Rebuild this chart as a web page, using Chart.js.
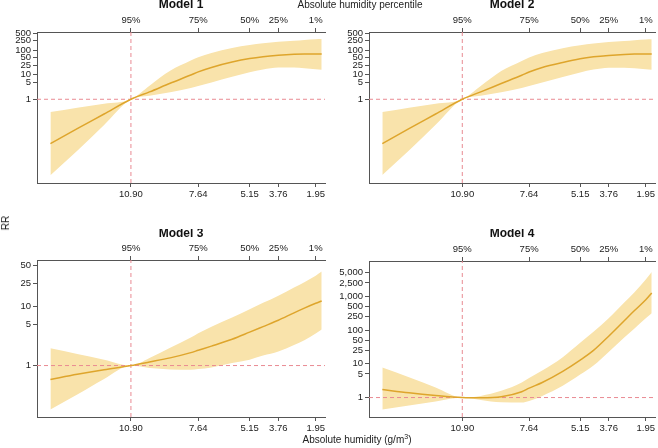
<!DOCTYPE html>
<html><head><meta charset="utf-8">
<script src="https://cdn.jsdelivr.net/npm/chart.js@4.4.1/dist/chart.umd.min.js"></script>
<style>
html,body{margin:0;padding:0;background:#fff;}
body{width:658px;height:448px;position:relative;overflow:hidden;font-family:"Liberation Sans",Arial,Helvetica,sans-serif;}
canvas{position:absolute;}
.lbl{position:absolute;font-size:10px;color:#222;white-space:nowrap;line-height:1;}
</style></head><body>
<canvas id="c1" width="329" height="200" style="left:0px;top:0px"></canvas>
<canvas id="c2" width="329" height="200" style="left:329px;top:0px"></canvas>
<canvas id="c3" width="329" height="205" style="left:0px;top:229px"></canvas>
<canvas id="c4" width="329" height="205" style="left:329px;top:229px"></canvas>
<div class="lbl" style="left:360px;top:5px;transform:translate(-50%,-50%)">Absolute humidity percentile</div>
<div class="lbl" style="left:357px;top:440px;transform:translate(-50%,-50%)">Absolute humidity (g/m<sup style="font-size:7px;vertical-align:4px;line-height:0">3</sup>)</div>
<div class="lbl" style="left:6px;top:223px;transform:translate(-50%,-50%) rotate(-90deg)">RR</div>
<script>
// ---- data ----
const humidity = [14.8, 13.5, 12.2, 10.9, 10, 9, 8, 7.64, 7, 6, 5.15, 4.5, 3.76, 3, 2.5, 1.95, 1.66];
const humidityTicks = [10.90, 7.64, 5.15, 3.76, 1.95];
const percentileLabels = ['95%', '75%', '50%', '25%', '1%'];
const refHumidity = 10.90;
const refRR = 1;

const m1Rr    = [0.0155, 0.063, 0.25, 1, 2.0, 4.5, 9.8, 13.2, 20, 33, 46, 55, 63, 69, 71, 71, 71];
const m1Upper = [0.30, 0.45, 0.66, 1, 3.6, 14.5, 38, 52, 78, 124, 164, 194, 224, 245, 263, 282, 288];
const m1Lower = [0.00079, 0.0079, 0.089, 1, 1.4, 1.95, 2.9, 3.5, 4.9, 8.3, 12.6, 16.6, 20, 20, 18.6, 17, 16.2];

const m2Rr    = [0.0155, 0.063, 0.25, 1, 2.0, 4.4, 9.6, 13, 20, 32, 45, 54, 62, 68, 70, 70, 70];
const m2Upper = [0.30, 0.45, 0.66, 1, 3.5, 14.2, 37, 51, 77, 122, 161, 191, 220, 242, 260, 278, 285];
const m2Lower = [0.00080, 0.0080, 0.09, 1, 1.4, 1.95, 2.9, 3.5, 4.8, 8.1, 12.4, 16.3, 19.6, 19.6, 18.3, 16.8, 16];

const m3Rr    = [0.58, 0.71, 0.85, 1, 1.15, 1.35, 1.66, 1.82, 2.14, 2.8, 3.7, 4.6, 5.9, 7.9, 9.5, 11.5, 12.6];
const m3Upper = [1.97, 1.58, 1.26, 1, 1.35, 2.0, 3.0, 3.55, 4.6, 6.6, 9.1, 11.7, 15.5, 21.4, 26.3, 33.9, 39.8];
const m3Lower = [0.178, 0.32, 0.59, 1, 0.91, 0.86, 0.85, 0.87, 0.93, 1.1, 1.26, 1.48, 1.74, 2.24, 2.7, 3.5, 4.1];

const m4Rr    = [1.73, 1.38, 1.15, 1, 0.98, 1.05, 1.48, 1.9, 2.8, 6.0, 12.9, 25, 66, 190, 380, 794, 1260];
const m4Upper = [7.8, 4.0, 2.0, 1, 1.12, 1.58, 2.8, 3.8, 6.3, 15.8, 42, 89, 224, 660, 1320, 3160, 5250];
const m4Lower = [0.44, 0.58, 0.76, 1, 0.85, 0.72, 0.71, 0.79, 1.12, 2.24, 4.8, 8.9, 22.4, 60, 112, 224, 316];

const m12YTicks = [1, 5, 10, 25, 50, 100, 250, 500];
const m3YTicks  = [1, 5, 10, 25, 50];
const m4YTicks  = [1, 5, 10, 25, 50, 100, 250, 500, 1000, 2500, 5000];

// ---- layout / style ----
const X_MIN = 1.5, X_MAX = 15.45;
const BAND = '#f9e3ab';
const LINE = '#dea52c';
const DASH = '#e98a92';
const AXIS = '#555';
const TXT = '#222';
const FONT = '"Liberation Sans", Arial, Helvetica, sans-serif';

const panels = [
  {id:'c1', title:'Model 1', rr:m1Rr, hi:m1Upper, lo:m1Lower, yTicks:m12YTicks, yMin:0.00038, yMax:560,
   canvas:{h:200}, area:{l:37, r:325, t:32, b:183}},
  {id:'c2', title:'Model 2', rr:m2Rr, hi:m2Upper, lo:m2Lower, yTicks:m12YTicks, yMin:0.00038, yMax:560,
   canvas:{h:200}, area:{l:40, r:326, t:32, b:183}},
  {id:'c3', title:'Model 3', rr:m3Rr, hi:m3Upper, lo:m3Lower, yTicks:m3YTicks, yMin:0.133, yMax:62.7,
   canvas:{h:205}, area:{l:37, r:325, t:31, b:188}},
  {id:'c4', title:'Model 4', rr:m4Rr, hi:m4Upper, lo:m4Lower, yTicks:m4YTicks, yMin:0.265, yMax:11200,
   canvas:{h:205}, area:{l:40, r:326, t:32, b:188}}
];

const TITLE_H = 9;
const pts = arr => humidity.map((h, i) => ({x: h, y: arr[i]}));
const tickFont = {family: FONT, size: 9.5};

panels.forEach(p => {
  const W = 329;
  const axisCommon = {
    grid: {drawOnChartArea: false, drawTicks: true, tickLength: 4, color: AXIS, lineWidth: 1},
    border: {display: true, color: AXIS, width: 1}
  };
  new Chart(document.getElementById(p.id), {
    type: 'line',
    data: {datasets: [
      {label: 'upper', data: pts(p.hi), borderWidth: 0, borderColor: 'rgba(0,0,0,0)', pointRadius: 0,
       fill: '+1', backgroundColor: BAND, cubicInterpolationMode: 'monotone', order: 2},
      {label: 'lower', data: pts(p.lo), borderWidth: 0, borderColor: 'rgba(0,0,0,0)', pointRadius: 0,
       fill: false, cubicInterpolationMode: 'monotone', order: 2},
      {label: 'RR', data: pts(p.rr), borderColor: LINE, borderWidth: 1.5, pointRadius: 0,
       fill: false, cubicInterpolationMode: 'monotone', order: 0},
      {label: 'refRR', data: [{x: X_MAX, y: refRR}, {x: X_MIN, y: refRR}], borderColor: DASH,
       borderWidth: 1, borderDash: [4, 3], pointRadius: 0, fill: false, tension: 0, order: 1},
      {label: 'refHumidity', data: [{x: refHumidity, y: p.yMin}, {x: refHumidity, y: p.yMax}], borderColor: DASH,
       borderWidth: 1, borderDash: [4, 3], pointRadius: 0, fill: false, tension: 0, order: 1}
    ]},
    options: {
      responsive: false, animation: false, events: [],
      layout: {padding: {left: 0, right: W - p.area.r, top: 0, bottom: 0}},
      plugins: {
        legend: {display: false}, tooltip: {enabled: false},
        title: {display: true, text: p.title, fullSize: false, padding: 0, color: '#111',
                font: {family: FONT, size: 12, weight: 'bold', lineHeight: 0.75}}
      },
      scales: {
        x: Object.assign({type: 'linear', position: 'bottom', min: X_MIN, max: X_MAX, reverse: true,
          afterBuildTicks: s => { s.ticks = humidityTicks.map(v => ({value: v})); },
          afterFit: s => { s.height = p.canvas.h - p.area.b; },
          ticks: {autoSkip: false, maxRotation: 0, padding: 2, color: TXT, font: tickFont,
                  callback: v => Number(v).toFixed(2)}}, axisCommon),
        x2: Object.assign({type: 'linear', position: 'top', min: X_MIN, max: X_MAX, reverse: true,
          afterBuildTicks: s => { s.ticks = humidityTicks.map(v => ({value: v})); },
          afterFit: s => { s.height = p.area.t - TITLE_H; },
          ticks: {autoSkip: false, maxRotation: 0, padding: 2, color: TXT, font: tickFont,
                  callback: (v, i) => percentileLabels[i]}}, axisCommon),
        y: Object.assign({type: 'logarithmic', position: 'left', min: p.yMin, max: p.yMax,
          afterBuildTicks: s => { s.ticks = p.yTicks.map(v => ({value: v})); },
          afterFit: s => { s.width = p.area.l; },
          ticks: {autoSkip: false, padding: 2, color: TXT, font: tickFont,
                  callback: v => Number(v).toLocaleString('en-US')}}, axisCommon)
      }
    }
  });
});
</script>
</body></html>
